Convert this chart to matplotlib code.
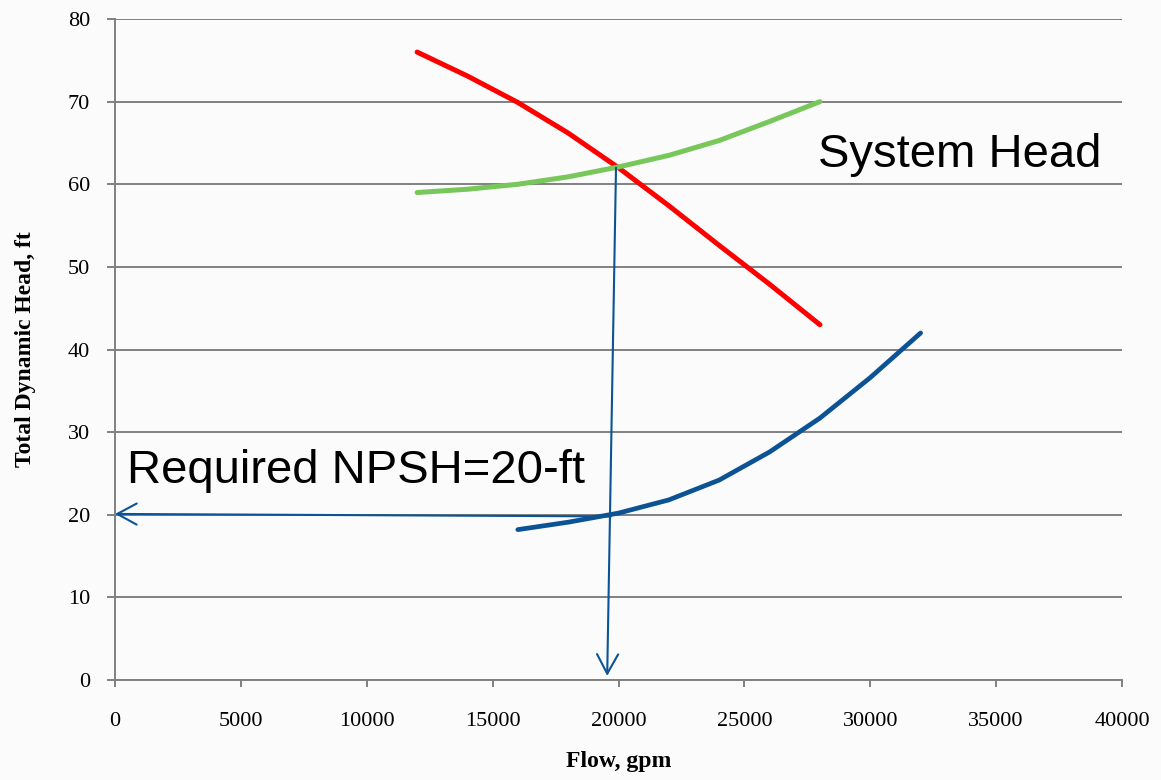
import matplotlib.pyplot as plt

# values (flow in gpm, head in ft)
pump_flow = [12000, 14000, 16000, 18000, 20000, 22000, 24000, 26000, 28000]
pump_head = [76.0, 73.1, 69.9, 66.2, 62.0, 57.4, 52.6, 47.9, 43.0]

sys_flow = [12000, 14000, 16000, 18000, 20000, 22000, 24000, 26000, 28000]
sys_head = [59.0, 59.4, 60.0, 60.9, 62.1, 63.5, 65.3, 67.6, 70.0]

npsh_flow = [16000, 18000, 20000, 22000, 24000, 26000, 28000, 30000, 32000]
npsh_head = [18.2, 19.1, 20.2, 21.8, 24.2, 27.6, 31.7, 36.6, 42.0]

x_ticks = list(range(0, 40001, 5000))
y_ticks = list(range(0, 81, 10))

blue = '#0B5394'
serif = ['Liberation Serif', 'DejaVu Serif']
sans = ['Liberation Sans', 'DejaVu Sans']

fig = plt.figure(figsize=(11.61, 7.8), dpi=100, facecolor='#FBFBFB')
ax = fig.add_axes([0.0991, 0.1282, 0.8673, 0.8474])
ax.set_facecolor('#FBFBFB')

ax.set_xlim(0, 40000)
ax.set_ylim(0, 80)
ax.set_xticks(x_ticks)
ax.set_yticks(y_ticks)
ax.set_xticklabels([str(v) for v in x_ticks], family=serif, fontsize=16)
ax.set_yticklabels([str(v) for v in y_ticks], family=serif, fontsize=16)
ax.tick_params(axis='x', direction='out', length=5, width=1.4, color='#808080', pad=18)
ax.tick_params(axis='y', direction='out', length=6, width=1.4, color='#808080', pad=12)

ax.grid(True, axis='y', color='#808080', linewidth=1.4)
ax.set_axisbelow(True)
for s in ['top', 'right']:
    ax.spines[s].set_visible(False)
for s in ['left', 'bottom']:
    ax.spines[s].set_color('#808080')
    ax.spines[s].set_linewidth(1.4)

ax.plot(pump_flow, pump_head, color='#FF0000', lw=3.6, solid_capstyle='round',
        solid_joinstyle='round', zorder=3)
ax.plot(sys_flow, sys_head, color='#77C75A', lw=3.6, solid_capstyle='round',
        solid_joinstyle='round', zorder=3)
ax.plot(npsh_flow, npsh_head, color=blue, lw=3.4, solid_capstyle='round',
        solid_joinstyle='round', zorder=3)

arrow = dict(arrowstyle='->,head_length=0.7,head_width=0.38', color=blue, lw=1.5,
             mutation_scale=20, shrinkA=0, shrinkB=0)
ax.annotate('', xy=(19550, 0.5), xytext=(19900, 62.0), arrowprops=arrow, zorder=4)
ax.annotate('', xy=(0, 20.1), xytext=(19700, 19.8), arrowprops=arrow, zorder=4,
            annotation_clip=False)

ax.text(27924, 62.1, 'System Head', family=sans, fontsize=34, va='baseline', ha='left')
ax.text(465, 23.9, 'Required NPSH=20-ft', family=sans, fontsize=34, va='baseline', ha='left')

ax.set_xlabel('Flow, gpm', family=serif, fontsize=17, fontweight='bold')
ax.set_ylabel('Total Dynamic Head, ft', family=serif, fontsize=17, fontweight='bold')
ax.xaxis.set_label_coords(0.5, -0.108)
ax.yaxis.set_label_coords(-0.079, 0.5)

fig.savefig('out.png', dpi=100, facecolor=fig.get_facecolor())
